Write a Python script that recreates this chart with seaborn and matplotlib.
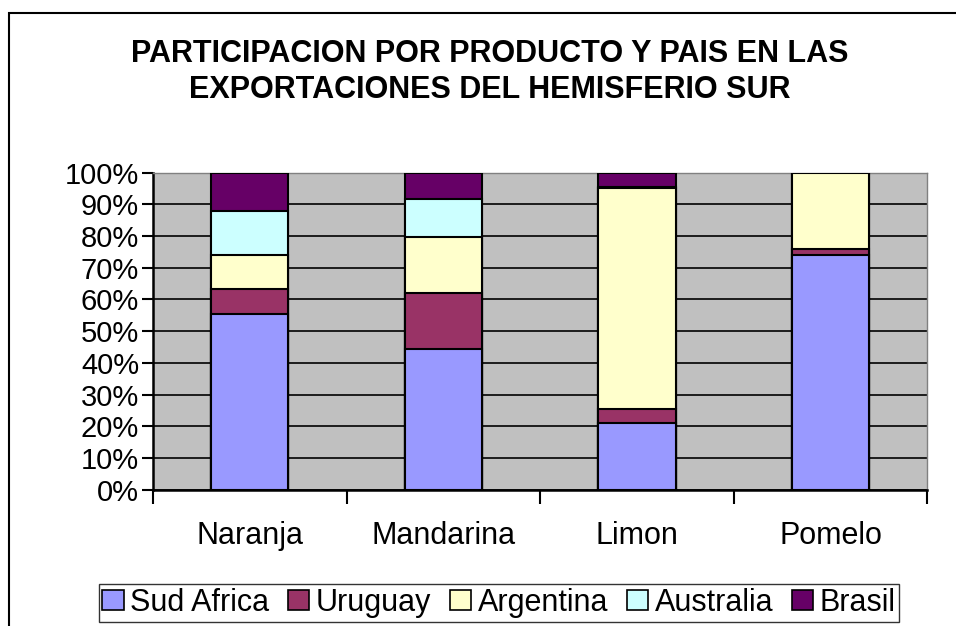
import matplotlib
matplotlib.use("Agg")
import matplotlib.pyplot as plt
import matplotlib.patches as mpatches
from matplotlib.ticker import FixedLocator, PercentFormatter
import pandas as pd
import seaborn as sns

# valores (% de participacion)
productos = ["Naranja", "Mandarina", "Limon", "Pomelo"]
paises = ["Sud Africa", "Uruguay", "Argentina", "Australia", "Brasil"]
sud_africa = [55.5, 44.4, 21.0, 74.0]
uruguay = [7.9, 17.7, 4.3, 1.8]
argentina = [10.6, 17.7, 69.8, 24.0]
australia = [13.9, 11.9, 0.5, 0.1]
brasil = [12.1, 8.3, 4.4, 0.1]
colores = ["#9999FF", "#993366", "#FFFFCC", "#CCFFFF", "#660066"]

sns.set_style("white", {"text.color": "black", "xtick.color": "black",
                        "ytick.color": "black", "axes.labelcolor": "black"})
plt.rcParams["font.family"] = ["Liberation Sans", "DejaVu Sans"]

df = pd.DataFrame({"Producto": productos, "Sud Africa": sud_africa, "Uruguay": uruguay,
                   "Argentina": argentina, "Australia": australia, "Brasil": brasil})
# acumulado para apilar
acum = df[paises].cumsum(axis=1)
acum["Producto"] = df["Producto"]

fig = plt.figure(figsize=(9.56, 6.26), dpi=100)
ax = fig.add_axes([0.160, 0.218, 0.810, 0.506])
ax.set_facecolor("#C0C0C0")

# dibujar desde el tope hacia abajo
for pais, color in reversed(list(zip(paises, colores))):
    sns.barplot(data=acum, x="Producto", y=pais, color=color, order=productos,
                width=0.40, edgecolor="black", linewidth=1.5, saturation=1, ax=ax, zorder=3)

ax.set_xlim(-0.5, 3.5)
ax.set_ylim(0, 100)
ax.yaxis.set_major_locator(FixedLocator(range(0, 101, 10)))
ax.yaxis.set_major_formatter(PercentFormatter(decimals=0))
ax.grid(axis="y", color="black", linewidth=1.2, zorder=0)
ax.set_axisbelow(True)
ax.set_xlabel("")
ax.set_ylabel("")

ax.tick_params(axis="y", which="major", direction="out", length=8, width=1.5,
               labelsize=21, left=True, pad=2, labelcolor="black")
ax.tick_params(axis="x", which="major", length=0, labelsize=22, pad=23, labelcolor="black")
ax.xaxis.set_minor_locator(FixedLocator([-0.5, 0.5, 1.5, 2.5, 3.5]))
ax.tick_params(axis="x", which="minor", direction="out", length=10, width=1.5, bottom=True)

for lado in ["left", "bottom"]:
    ax.spines[lado].set_color("black")
    ax.spines[lado].set_linewidth(1.8)
for lado in ["top", "right"]:
    ax.spines[lado].set_color("#808080")
    ax.spines[lado].set_linewidth(1.0)

fig.text(0.512, 0.885, "PARTICIPACION POR PRODUCTO Y PAIS EN LAS\nEXPORTACIONES DEL HEMISFERIO SUR",
         ha="center", va="center", fontsize=22, fontweight="bold", linespacing=1.28,
         color="black")

handles = [mpatches.Patch(facecolor=c, edgecolor="black", linewidth=1.2, label=p)
           for p, c in zip(paises, colores)]
leg = fig.legend(handles=handles, loc="center", bbox_to_anchor=(0.522, 0.037), ncol=5,
                 fontsize=22, frameon=True, fancybox=False, handlelength=0.7,
                 handleheight=0.65, handletextpad=0.22, columnspacing=0.6,
                 borderpad=0.12, borderaxespad=0)
leg.get_frame().set_edgecolor("black")
leg.get_frame().set_linewidth(1.0)
for t in leg.get_texts():
    t.set_color("black")

# marco del area del grafico
fig.patches.append(mpatches.Rectangle((9 / 956, -0.1), 2, 1 - 13 / 626 + 0.1,
                                      transform=fig.transFigure, fill=False,
                                      edgecolor="black", linewidth=1.5))

fig.savefig("out.png", dpi=100)
